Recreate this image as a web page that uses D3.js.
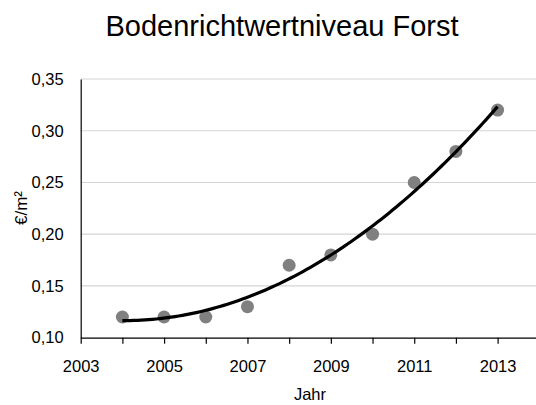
<!DOCTYPE html>
<html>
<head>
<meta charset="utf-8">
<script src="https://cdn.jsdelivr.net/npm/d3@7"></script>
<style>
  html, body { margin: 0; padding: 0; background: #fff; }
  svg { display: block; font-family: "Liberation Sans", Arial, sans-serif; }
</style>
</head>
<body>
<svg id="chart" width="536" height="405"></svg>
<script>
// Land value level (forest), €/m² per year
const years  = [2004, 2005, 2006, 2007, 2008, 2009, 2010, 2011, 2012, 2013];
const values = [0.12, 0.12, 0.12, 0.13, 0.17, 0.18, 0.20, 0.25, 0.28, 0.32];
const xTickLabels = [2003, 2005, 2007, 2009, 2011, 2013];
const yTickValues = [0.10, 0.15, 0.20, 0.25, 0.30, 0.35];

const svg = d3.select("#chart");
const FONT = "'Liberation Sans', Arial, sans-serif";

const x = d3.scaleLinear().domain([2003, 2014]).range([80.7, 539.3]);
const y = d3.scaleLinear().domain([0.10, 0.35]).range([337.7, 79]);

// horizontal gridlines
svg.append("g")
  .selectAll("line")
  .data(yTickValues.slice(1))
  .join("line")
  .attr("x1", x(2003)).attr("x2", x(2014))
  .attr("y1", d => y(d)).attr("y2", d => y(d))
  .attr("stroke", "#d4d4d4").attr("stroke-width", 1.2);

// x axis: tick on every year, labels on odd years
const fmtY = d3.format(".2f");
const xAxis = d3.axisBottom(x)
  .tickValues(d3.range(2003, 2015))
  .tickSize(6)
  .tickSizeOuter(0)
  .tickFormat(d => xTickLabels.includes(d) ? String(d) : "");
const gx = svg.append("g").attr("transform", `translate(0,${y(0.10)})`).call(xAxis);
gx.select(".domain").attr("stroke", "#000").attr("stroke-width", 1.2);
gx.selectAll(".tick line").attr("stroke", "#000").attr("stroke-width", 1.2);
gx.selectAll(".tick text")
  .attr("y", 23)
  .attr("fill", "#000")
  .style("font-size", "16.5px")
  .style("font-family", FONT);

// y axis
const yAxis = d3.axisLeft(y)
  .tickValues(yTickValues)
  .tickSize(0)
  .tickPadding(17)
  .tickFormat(d => fmtY(d).replace(".", ","));
const gy = svg.append("g").attr("transform", `translate(${x(2003)},0)`).call(yAxis);
gy.select(".domain").attr("stroke", "#000").attr("stroke-width", 1.2);
gy.selectAll(".tick text")
  .attr("fill", "#000")
  .style("font-size", "16.5px")
  .style("font-family", FONT);

// data points
svg.append("g")
  .selectAll("circle")
  .data(years.map((yr, i) => ({ yr, v: values[i] })))
  .join("circle")
  .attr("cx", d => x(d.yr))
  .attr("cy", d => y(d.v))
  .attr("r", 6.5)
  .attr("fill", "#808080");

// second-order polynomial trendline (least squares)
function polyFit2(xs, ys) {
  const mx = d3.mean(xs);
  const t = xs.map(v => v - mx);
  const mt2 = d3.mean(t.map(v => v * v));
  const u = t.map(v => v * v - mt2);
  const my = d3.mean(ys);
  const tu = d3.sum(t.map((v, i) => v * u[i]));
  const uu = d3.sum(u.map(v => v * v));
  const tt = d3.sum(t.map(v => v * v));
  const ty = d3.sum(t.map((v, i) => v * ys[i]));
  const uy = d3.sum(u.map((v, i) => v * ys[i]));
  const det = tt * uu - tu * tu;
  const b = (ty * uu - uy * tu) / det;
  const c = (uy * tt - ty * tu) / det;
  return xv => { const tv = xv - mx; return my + b * tv + c * (tv * tv - mt2); };
}
const trend = polyFit2(years, values);
const x0 = years[0], x1 = years[years.length - 1];
const trendPts = d3.range(0, 101).map(i => {
  const xv = x0 + (x1 - x0) * i / 100;
  return [xv, trend(xv)];
});
svg.append("path")
  .datum(trendPts)
  .attr("d", d3.line().x(d => x(d[0])).y(d => y(d[1])))
  .attr("fill", "none")
  .attr("stroke", "#000")
  .attr("stroke-width", 3.2);

// title
svg.append("text")
  .attr("x", 282).attr("y", 36)
  .attr("text-anchor", "middle")
  .style("font-size", "29px")
  .text("Bodenrichtwertniveau Forst");

// axis titles
svg.append("text")
  .attr("x", x(2008.5)).attr("y", 400)
  .attr("text-anchor", "middle")
  .style("font-size", "16.5px")
  .text("Jahr");

svg.append("text")
  .attr("transform", "translate(27,208) rotate(-90)")
  .attr("text-anchor", "middle")
  .style("font-size", "17px")
  .text("€/m²");
</script>
</body>
</html>
